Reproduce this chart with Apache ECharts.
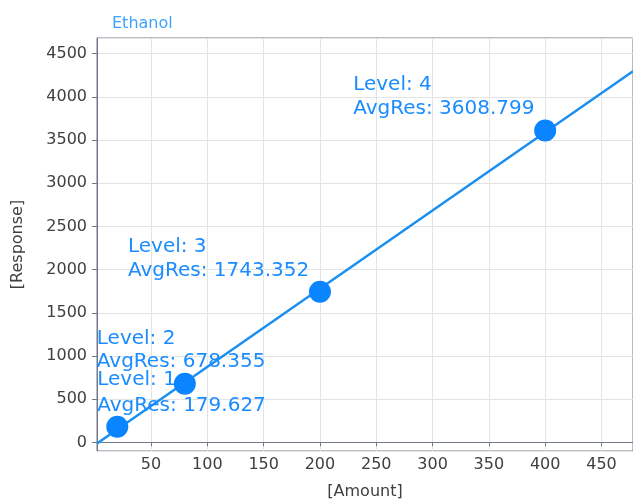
<!DOCTYPE html>
<html>
<head>
<meta charset="utf-8">
<script src="https://cdn.jsdelivr.net/npm/echarts@6/dist/echarts.min.js"></script>
<style>html,body{margin:0;padding:0;background:#fff}#c{width:633px;height:502px}</style>
</head>
<body>
<div id="c"></div>
<script>
// ---- data ----
var levels = [1, 2, 3, 4];
var amounts = [20, 80, 200, 400];
var avgRes = [179.627, 678.355, 1743.352, 3608.799];
// calibration line end points
var fitLine = [[2, -14], [478, 4296]];
var xTicks = [50, 100, 150, 200, 250, 300, 350, 400, 450];
var yTicks = [0, 500, 1000, 1500, 2000, 2500, 3000, 3500, 4000, 4500];

// ---- label styles (positions relative to symbol box) ----
var labelStyles = [
  {position: [-9, 3], lineHeight: 26},
  {position: [-77, 1], lineHeight: 23},
  {position: [-181, 2], lineHeight: 24},
  {position: [-181, 1], lineHeight: 24}
];

var FONT = 'DejaVu Sans';
var axisColor = '#717888';
var gridColor = '#e4e4e4';

var pts = amounts.map(function (a, i) {
  var ls = labelStyles[i];
  return {
    value: [a, avgRes[i]],
    level: levels[i],
    label: {
      position: ls.position,
      align: 'left',
      verticalAlign: 'bottom',
      lineHeight: ls.lineHeight
    }
  };
});

var chart = echarts.init(document.getElementById('c'), null, {renderer: 'canvas'});
chart.setOption({
  animation: false,
  title: {
    text: 'Ethanol',
    left: 107, top: 11,
    textStyle: {fontFamily: FONT, fontSize: 16, fontWeight: 'normal', color: '#3fa3ff'}
  },
  grid: {
    left: 97, top: 38, right: 0, bottom: 51,
    containLabel: false, outerBoundsMode: 'none',
    show: true, borderColor: axisColor, borderWidth: 1, backgroundColor: 'transparent'
  },
  xAxis: {
    type: 'value', min: 2, max: 478, splitNumber: 9,
    name: '[Amount]', nameLocation: 'middle', nameGap: 33,
    nameTextStyle: {fontFamily: FONT, fontSize: 16, color: '#404040'},
    axisLine: {show: true, lineStyle: {color: axisColor, width: 1}},
    axisTick: {show: true, length: 4, lineStyle: {color: axisColor}},
    axisLabel: {
      fontFamily: FONT, fontSize: 16, color: '#404040', margin: 6,
      showMinLabel: false, showMaxLabel: false,
      formatter: function (v) { return xTicks.indexOf(v) >= 0 ? String(v) : ''; }
    },
    splitLine: {show: true, lineStyle: {color: gridColor, width: 1}}
  },
  yAxis: {
    type: 'value', min: -100, max: 4680, splitNumber: 10,
    name: '[Response]', nameLocation: 'middle', nameGap: 71, nameRotate: 90,
    nameTextStyle: {fontFamily: FONT, fontSize: 16, color: '#404040'},
    axisLine: {show: true, lineStyle: {color: axisColor, width: 1}},
    axisTick: {show: true, length: 5, lineStyle: {color: axisColor}},
    axisLabel: {
      fontFamily: FONT, fontSize: 16, color: '#404040', margin: 10,
      showMinLabel: false, showMaxLabel: false,
      formatter: function (v) { return yTicks.indexOf(v) >= 0 ? String(v) : ''; }
    },
    splitLine: {show: true, lineStyle: {color: gridColor, width: 1}}
  },
  series: [
    {
      type: 'line',
      data: fitLine,
      showSymbol: false,
      symbol: 'none',
      lineStyle: {color: '#1a8fef', width: 2.5},
      silent: true,
      z: 2
    },
    {
      type: 'scatter',
      data: pts,
      symbol: 'circle',
      symbolSize: 22,
      itemStyle: {color: '#0a85ff', opacity: 1},
      label: {
        show: true,
        fontFamily: FONT, fontSize: 20, color: '#1a8cff',
        formatter: function (p) {
          return 'Level: ' + p.data.level + '\nAvgRes: ' + p.data.value[1].toFixed(3);
        }
      },
      z: 3
    }
  ]
});
</script>
</body>
</html>
